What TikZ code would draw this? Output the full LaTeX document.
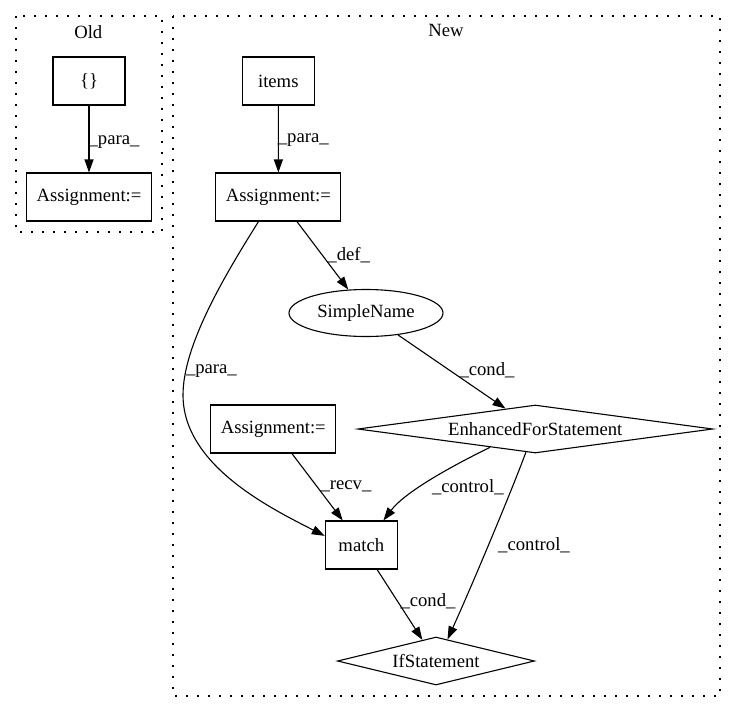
\documentclass[tikz,border=0pt]{standalone}
\usepackage{fontspec}
\setmainfont{Liberation Serif}
\usetikzlibrary{shapes.geometric,arrows.meta,calc}
\begin{document}
\begin{tikzpicture}[x=1pt,y=-1pt,
  every node/.style={font=\fontsize{18.67}{22}\selectfont},
  box/.style={draw,line width=1.1pt,rectangle,inner sep=0pt,minimum height=48pt},
  dia/.style={draw,line width=1.1pt,diamond,inner sep=0pt},
  ell/.style={draw,line width=1.1pt,ellipse,inner sep=0pt,minimum width=154pt,minimum height=47pt},
  edge/.style={line width=1.1pt,-{Triangle[length=13pt,width=9pt]}},
  cluster/.style={draw,line width=1.1pt,dash pattern=on 2pt off 9pt},
  lbl/.style={inner sep=0pt}
]
\useasboundingbox (0,0) rectangle (736,712);
\draw[cluster] (16,16) rectangle (162,232);
\draw[cluster] (173,16) rectangle (720,696);

\node[lbl] (old) at (88.3,31.7) {Old};
\node[lbl] (new) at (446,30.7) {New};

\node[box,minimum width=72pt] (brace) at (89,81) {\{\}};
\node[box,minimum width=125pt] (oasg) at (89,197) {Assignment:=};
\node[box,minimum width=72pt] (items) at (278.3,81) {items};
\node[box,minimum width=125pt] (asg) at (278.4,197) {Assignment:=};
\node[ell] (sn) at (366,313) {SimpleName};
\node[dia,aspect=7.4,minimum width=355pt,minimum height=48pt] (efs) at (535.3,429) {EnhancedForStatement};
\node[box,minimum width=125pt] (asg2) at (273.3,429) {Assignment:=};
\node[box,minimum width=72pt] (match) at (361.3,545) {match};
\node[dia,aspect=4.1,minimum width=197pt,minimum height=48pt] (ifs) at (436,661) {IfStatement};

\draw[edge] (brace) -- (oasg);
\draw[edge] (items) -- (asg);
\draw[edge] (asg) -- (sn);
\draw[edge] (sn) -- (efs);
\draw[edge] (asg2) -- (match);
\draw[edge] (match) -- (ifs);
\draw[edge] (asg.231) .. controls (225,275) and (183,345) .. (183,395) .. controls (183,465) and (270,508) .. (match.166);
\draw[edge] (efs.202) .. controls (450,467) and (405,492) .. (match.48);
\draw[edge] (efs.248) .. controls (510,495) and (470,590) .. (ifs.62);

\node[lbl] (l1) at (114,141.7) {\_para\_};
\node[lbl] (l2) at (303.3,140) {\_para\_};
\node[lbl] (l3) at (348.7,255) {\_def\_};
\node[lbl] (l4) at (211.4,370.7) {\_para\_};
\node[lbl] (l5) at (487,370.3) {\_cond\_};
\node[lbl] (l6) at (346,486.7) {\_recv\_};
\node[lbl] (l7) at (467.8,487.3) {\_control\_};
\node[lbl] (l8) at (534,545) {\_control\_};
\node[lbl] (l9) at (428,601.7) {\_cond\_};
\end{tikzpicture}
\end{document}
